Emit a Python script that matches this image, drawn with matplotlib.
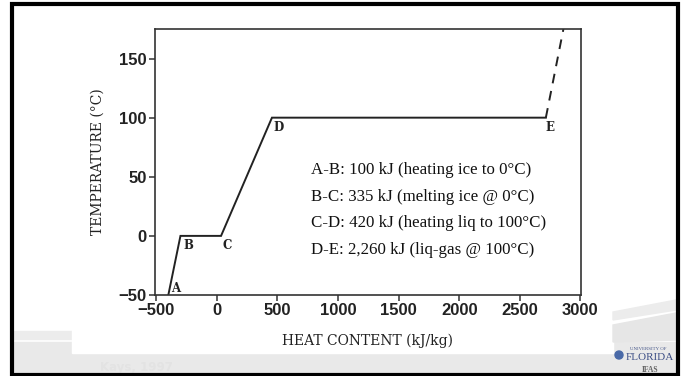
import matplotlib
matplotlib.use("Agg")
import matplotlib.pyplot as plt
from matplotlib.patches import Rectangle, Polygon, Ellipse

# data
heat = [-400, -300, 35, 455, 2715]        # kJ/kg at points A..E
temp = [-50, 0, 0, 100, 100]              # deg C
point_names = ["A", "B", "C", "D", "E"]
heat_gas = [2715, 2860]                   # dashed continuation past E
temp_gas = [100, 175]

notes = [
    "A-B: 100 kJ (heating ice to 0°C)",
    "B-C: 335 kJ (melting ice @ 0°C)",
    "C-D: 420 kJ (heating liq to 100°C)",
    "D-E: 2,260 kJ (liq-gas @ 100°C)",
]
note_y = [56, 33, 11, -12]

xticks = [-500, 0, 500, 1000, 1500, 2000, 2500, 3000]
yticks = [-50, 0, 50, 100, 150]

W, H = 685, 376
fig = plt.figure(figsize=(W / 100, H / 100), dpi=100)
fig.patch.set_facecolor("white")


def px(x0, y0, x1, y1):
    """pixel box (top-left origin) -> figure rect"""
    return (x0 / W, 1 - y1 / H), (x1 - x0) / W, (y1 - y0) / H


# slide background: grey strip at the bottom, swoosh on the right
for (x0, y0, x1, y1), c in [((14, 342, 676, 374), "#e9e9e9"),
                            ((14, 331, 72, 339), "#ececec"),
                            ((72, 0, 613, 353), "white")]:
    xy, w, h = px(x0, y0, x1, y1)
    fig.patches.append(Rectangle(xy, w, h, transform=fig.transFigure,
                                 color=c, zorder=-2))
for pts, c in [([(613, 312), (676, 300), (676, 310), (613, 320)], "#ececec"),
               ([(613, 325), (676, 313), (676, 340), (613, 342)], "#e6e6e6")]:
    fig.patches.append(Polygon([(x / W, 1 - y / H) for x, y in pts],
                               transform=fig.transFigure, color=c, zorder=-2))

# black slide frame
xy, w, h = px(12, 3.5, 678, 375)
fig.patches.append(Rectangle(xy, w, h, transform=fig.transFigure, fill=False,
                             edgecolor="black", linewidth=3, zorder=5))

ax = fig.add_axes([155 / W, 1 - 295 / H, 426 / W, 266 / H])
ax.set_facecolor("white")
ax.plot(heat, temp, color="#222222", lw=1.4, solid_joinstyle="miter")
ax.plot(heat_gas, temp_gas, color="#222222", lw=1.4, ls=(0, (5, 4)))

offsets = [(2, 5), (2, -7), (1, -7), (1, -7), (0, -7)]
for name, x, y, off in zip(point_names, heat, temp, offsets):
    ax.annotate(name, (x, y), xytext=off, textcoords="offset points",
                fontsize=8.5, fontweight="bold", family="DejaVu Serif",
                color="#222222", va="center", ha="left")

for t, y in zip(notes, note_y):
    ax.text(775, y, t, fontsize=12.2, family="Liberation Serif",
            color="#111111", va="center", ha="left")

ax.set_xlim(-510, 3005)
ax.set_ylim(-50, 175)
ax.set_xticks(xticks)
ax.set_yticks(yticks)
ax.set_xticklabels([f"{v:d}".replace("-", "\u2212") for v in xticks])
ax.set_yticklabels([f"{v:d}".replace("-", "\u2212") for v in yticks])
ax.tick_params(direction="out", length=4, width=1.1, color="#333333",
               labelsize=12, labelcolor="#222222", pad=2)
for lab in ax.get_xticklabels() + ax.get_yticklabels():
    lab.set_fontweight("bold")
    lab.set_family("Liberation Sans")
for sp in ax.spines.values():
    sp.set_color("#333333")
    sp.set_linewidth(1.2)

ax.set_xlabel("HEAT CONTENT (kJ/kg)", family="DejaVu Serif", fontsize=10,
              color="#222222", labelpad=11)
ax.set_ylabel("TEMPERATURE (°C)", family="DejaVu Serif", fontsize=10,
              color="#222222", labelpad=10)

# source and logo on the slide
fig.text(100 / W, 1 - 368 / H, "Kays, 1997", fontsize=8.5, fontweight="bold",
         color="#e3e3e3", va="center")
fig.text(648 / W, 1 - 349 / H, "UNIVERSITY OF", fontsize=3.5,
         family="Liberation Serif", color="#445588", ha="center", va="center")
fig.text(650 / W, 1 - 358 / H, "FLORIDA", fontsize=8,
         family="Liberation Serif", color="#3d4f86", ha="center", va="center")
fig.text(650 / W, 1 - 370 / H, "IFAS", fontsize=5.5, fontweight="bold",
         family="Liberation Serif", color="#666666", ha="center", va="center")
fig.patches.append(Ellipse((619 / W, 1 - 355 / H), 8 / W, 8 / H,
                           transform=fig.transFigure, color="#4a6aa8",
                           zorder=3))

fig.savefig("out.png", dpi=100)
